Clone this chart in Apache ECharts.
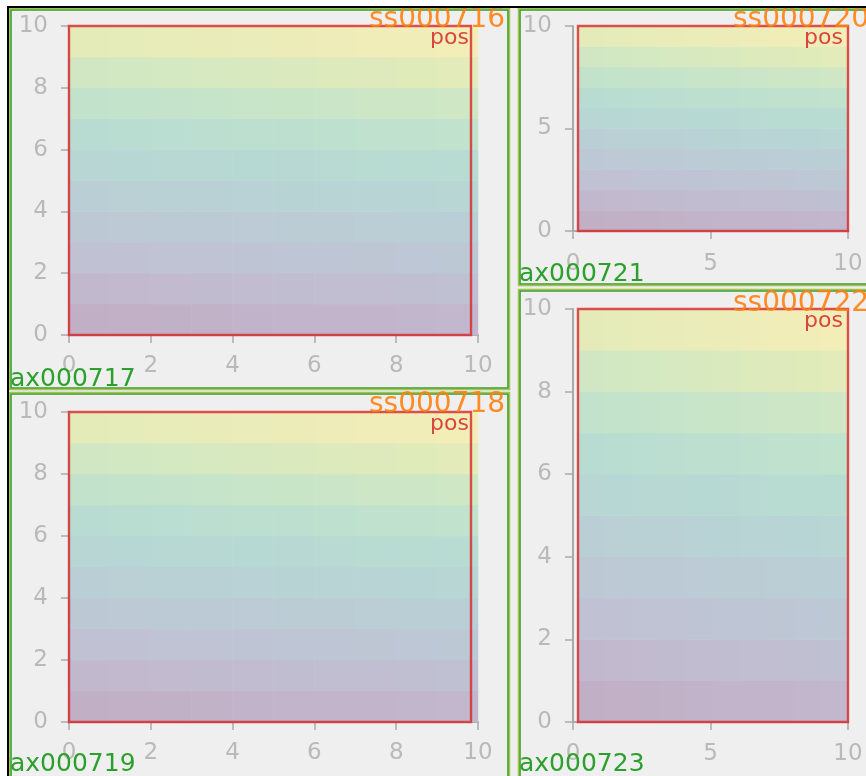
<!DOCTYPE html>
<html>
<head>
<meta charset="utf-8">
<script src="https://cdn.jsdelivr.net/npm/echarts@6/dist/echarts.min.js"></script>
<style>
html,body{margin:0;padding:0;background:#fff;}
#chart{width:866px;height:776px;}
</style>
</head>
<body>
<div id="chart"></div>
<script>
// ---------- data ----------
const meshCols = ['0','1','2','3','4','5','6','7','8','9'];
const meshRowsLabels = ['0','1','2','3','4','5','6','7','8','9'];
const meshValues = [
  [0, 1, 2, 3, 4, 5, 6, 7, 8, 9],
  [10, 11, 12, 13, 14, 15, 16, 17, 18, 19],
  [20, 21, 22, 23, 24, 25, 26, 27, 28, 29],
  [30, 31, 32, 33, 34, 35, 36, 37, 38, 39],
  [40, 41, 42, 43, 44, 45, 46, 47, 48, 49],
  [50, 51, 52, 53, 54, 55, 56, 57, 58, 59],
  [60, 61, 62, 63, 64, 65, 66, 67, 68, 69],
  [70, 71, 72, 73, 74, 75, 76, 77, 78, 79],
  [80, 81, 82, 83, 84, 85, 86, 87, 88, 89],
  [90, 91, 92, 93, 94, 95, 96, 97, 98, 99]
];
const panelNames = ['ax000717', 'ax000721', 'ax000719', 'ax000723'];
const panelTitles = ['ss000716', 'ss000720', 'ss000718', 'ss000722'];
const posLabel = 'pos';
const xTicksWide = [0, 2, 4, 6, 8, 10];
const yTicksWide = [0, 2, 4, 6, 8, 10];
const xTicksNarrow = [0, 5, 10];
const yTicksShort = [0, 5, 10];

// ---------- layout (pixels) ----------
const panels = [
  { axis:[69,26,409,309],  mesh:[69,26,409,309],  pos:[69,26,402,309],  xt:xTicksWide,   yt:yTicksWide,
    box:[9,8,500,381],  title:[369,20], name:[10,379] , posText:[469,38], lm:20 },
  { axis:[573,26,275,205], mesh:[578,26,270,205], pos:[578,26,270,205], xt:xTicksNarrow, yt:yTicksShort,
    box:[518,8,400,277],  title:[733,20], name:[519,274], posText:[843,38], lm:22 },
  { axis:[69,412,409,310], mesh:[69,412,409,310], pos:[69,412,402,310], xt:xTicksWide,   yt:yTicksWide,
    box:[9,392,500,420], title:[369,405], name:[10,764], posText:[469,424], lm:20 },
  { axis:[573,309,275,413], mesh:[578,309,270,413], pos:[578,309,270,413], xt:xTicksNarrow, yt:yTicksWide,
    box:[518,289,400,520], title:[733,304], name:[519,764], posText:[843,321], lm:21 }
];

const viridis = ['#440154','#482475','#414487','#355f8d','#2a788e','#21918c','#22a884','#44bf70','#7ad151','#bddf26','#fde725'];
const bg = [239,239,239];
const alpha = 0.27;
function blend(hex){
  const r=parseInt(hex.substr(1,2),16), g=parseInt(hex.substr(3,2),16), b=parseInt(hex.substr(5,2),16);
  const c=[r,g,b].map((v,i)=>Math.round(bg[i]*(1-alpha)+v*alpha));
  return 'rgb('+c.join(',')+')';
}
const blended = viridis.map(blend);

const FONT = 'DejaVu Sans';
const tickColor = '#b9b9b9';

const grids=[], xAxes=[], yAxes=[], series=[];
const heatData = [];
meshValues.forEach((row, yi) => row.forEach((v, xi) => heatData.push([xi, yi, v])));

panels.forEach((p, k) => {
  grids.push({ left:p.axis[0], top:p.axis[1], width:p.axis[2], height:p.axis[3], outerBoundsMode:'none' });
  const gi = grids.length-1;
  const xt = p.xt, yt = p.yt;
  xAxes.push({ gridIndex:gi, type:'value', position:'bottom', min:xt[0], max:xt[xt.length-1], interval:xt[1]-xt[0],
    axisLine:{show:true, onZero:false, lineStyle:{color:'#aaaaaa', width:2}},
    axisTick:{show:true, length:8, lineStyle:{color:'#aaaaaa', width:1.5}},
    axisLabel:{color:tickColor, fontSize:23, fontFamily:FONT, margin:p.lm},
    splitLine:{show:false} });
  yAxes.push({ gridIndex:gi, type:'value', position:'left', min:yt[0], max:yt[yt.length-1], interval:yt[1]-yt[0],
    axisLine:{show:true, onZero:false, lineStyle:{color:'#aaaaaa', width:2}},
    axisTick:{show:true, length:8, lineStyle:{color:'#aaaaaa', width:1.5}},
    axisLabel:{color:tickColor, fontSize:23, fontFamily:FONT, margin:21},
    splitLine:{show:false} });
  grids.push({ left:p.mesh[0], top:p.mesh[1], width:p.mesh[2], height:p.mesh[3], outerBoundsMode:'none' });
  const mi = grids.length-1;
  xAxes.push({ gridIndex:mi, type:'category', data:meshCols, show:false });
  yAxes.push({ gridIndex:mi, type:'category', data:meshRowsLabels, show:false });
  series.push({ type:'heatmap', xAxisIndex:mi, yAxisIndex:mi, data:heatData, z:1,
    itemStyle:{borderWidth:0}, emphasis:{disabled:true}, silent:true });
});

const graphics = [];
graphics.push({type:'rect', shape:{x:0,y:0,width:7,height:776}, style:{fill:'#ffffff'}, z:100});
graphics.push({type:'rect', shape:{x:0,y:0,width:866,height:6}, style:{fill:'#ffffff'}, z:100});
graphics.push({type:'rect', shape:{x:7,y:6,width:2,height:770}, style:{fill:'#000000'}, z:101});
graphics.push({type:'rect', shape:{x:7,y:6,width:859,height:2}, style:{fill:'#000000'}, z:101});

panels.forEach((p, k) => {
  const b = p.box;
  graphics.push({type:'rect', shape:{x:b[0]+0.5,y:b[1]+0.5,width:b[2],height:b[3]},
    style:{fill:null, stroke:'#a9c24a', lineWidth:1.5}, z:90});
  graphics.push({type:'rect', shape:{x:b[0]+2,y:b[1]+2,width:b[2]-3,height:b[3]-3},
    style:{fill:null, stroke:'#3a9e2c', lineWidth:1.6}, z:91});
  graphics.push({type:'rect', shape:{x:p.pos[0],y:p.pos[1],width:p.pos[2],height:p.pos[3]},
    style:{fill:null, stroke:'rgba(214,39,40,0.8)', lineWidth:2.4}, z:95});
  graphics.push({type:'text', x:p.posText[0], y:p.posText[1],
    style:{text:posLabel, fill:'#d62728', opacity:0.85, font:'22px "DejaVu Sans"', align:'right', verticalAlign:'middle'}, z:110});
  graphics.push({type:'text', x:p.title[0], y:p.title[1],
    style:{text:panelTitles[k], fill:'#ff7f0e', opacity:0.9, font:'28px "DejaVu Sans"', align:'left', verticalAlign:'middle'}, z:99});
  graphics.push({type:'text', x:p.name[0], y:p.name[1],
    style:{text:panelNames[k], fill:'#2ca02c', font:'25px "DejaVu Sans"', align:'left', verticalAlign:'middle'}, z:110});
});

const chart = echarts.init(document.getElementById('chart'), null, {renderer:'canvas', width:866, height:776});
chart.setOption({
  backgroundColor:'#efefef',
  animation:false,
  textStyle:{fontFamily:FONT},
  grid:grids, xAxis:xAxes, yAxis:yAxes, series:series,
  visualMap:{ type:'continuous', show:false, min:0, max:99, seriesIndex:[0,1,2,3], inRange:{color:blended} },
  graphic:graphics
});
</script>
</body>
</html>
